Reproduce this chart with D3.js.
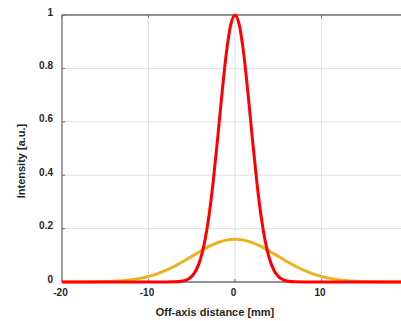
<!DOCTYPE html>
<html lang="en">
<head>
<meta charset="UTF-8">
<title>Intensity profile</title>
<style>
  body { margin: 0; background: #fff; }
  svg { display: block; }
  text { font-family: "Liberation Sans", Arial, sans-serif; font-weight: bold; fill: #262626; }
</style>
</head>
<body>
<div id="root"></div>
<script src="https://d3js.org/d3.v7.min.js"></script>
<script>
// values
const xTicks = [-20, -10, 0, 10, 20]
const yTicks = [0, 0.2, 0.4, 0.6, 0.8, 1]
const yTickLabels = ["0", "0.2", "0.4", "0.6", "0.8", "1"]

const redX = [-20, -8, -7, -6, -5.5, -5, -4.5, -4, -3.5, -3, -2.5, -2, -1.5, -1, -0.5, 0,
              0.5, 1, 1.5, 2, 2.5, 3, 3.5, 4, 4.5, 5, 5.5, 6, 7, 8, 20]
const redY = [0, 0, 0.0005, 0.004, 0.0095, 0.021, 0.044, 0.085, 0.152, 0.25, 0.382, 0.54, 0.707, 0.857, 0.962, 1,
              0.962, 0.857, 0.707, 0.54, 0.382, 0.25, 0.152, 0.085, 0.044, 0.021, 0.0095, 0.004, 0.0005, 0, 0]

const orangeX = [-20, -18, -17, -16, -15, -14, -13, -12, -11, -10, -9, -8, -7, -6, -5, -4, -3, -2, -1, 0,
                 1, 2, 3, 4, 5, 6, 7, 8, 9, 10, 11, 12, 13, 14, 15, 16, 17, 18, 20]
const orangeY = [0, 0.0002, 0.0004, 0.0009, 0.0016, 0.0029, 0.0051, 0.0085, 0.0135, 0.0208, 0.0306, 0.0433,
                 0.0589, 0.0768, 0.0961, 0.1154, 0.1332, 0.1475, 0.1568, 0.16,
                 0.1568, 0.1475, 0.1332, 0.1154, 0.0961, 0.0768, 0.0589, 0.0433, 0.0306, 0.0208, 0.0135,
                 0.0085, 0.0051, 0.0029, 0.0016, 0.0009, 0.0004, 0.0002, 0]

const W = 401, H = 321
const margin = {top: 15, left: 62}
const plotW = 346, plotH = 267

const svg = d3.select("#root").append("svg")
  .attr("width", W)
  .attr("height", H)

const x = d3.scaleLinear().domain([-20, 20]).range([margin.left, margin.left + plotW])
const y = d3.scaleLinear().domain([0, 1]).range([margin.top + plotH, margin.top])

// grid
svg.append("g").selectAll("line.gx")
  .data(xTicks.slice(1, -1))
  .join("line")
  .attr("x1", d => x(d)).attr("x2", d => x(d))
  .attr("y1", y(0)).attr("y2", y(1))
  .attr("stroke", "#dfdfdf").attr("stroke-width", 1)

svg.append("g").selectAll("line.gy")
  .data(yTicks.slice(1, -1))
  .join("line")
  .attr("x1", x(-20)).attr("x2", x(20))
  .attr("y1", d => y(d)).attr("y2", d => y(d))
  .attr("stroke", "#dfdfdf").attr("stroke-width", 1)

// box lines
const axisColor = "#6e6e6e"
svg.append("line").attr("x1", x(-20)).attr("x2", x(20)).attr("y1", y(1)).attr("y2", y(1))
  .attr("stroke", axisColor).attr("stroke-width", 1.3)
svg.append("line").attr("x1", x(-20)).attr("x2", x(20)).attr("y1", y(0)).attr("y2", y(0))
  .attr("stroke", axisColor).attr("stroke-width", 1.3)
svg.append("line").attr("x1", x(-20)).attr("x2", x(-20)).attr("y1", y(0)).attr("y2", y(1))
  .attr("stroke", axisColor).attr("stroke-width", 1.3)

// ticks (inside)
svg.append("g").selectAll("line")
  .data(xTicks)
  .join("line")
  .attr("x1", d => x(d)).attr("x2", d => x(d))
  .attr("y1", y(0)).attr("y2", y(0) - 3)
  .attr("stroke", axisColor)
svg.append("g").selectAll("line")
  .data(xTicks)
  .join("line")
  .attr("x1", d => x(d)).attr("x2", d => x(d))
  .attr("y1", y(1)).attr("y2", y(1) + 3)
  .attr("stroke", axisColor)
svg.append("g").selectAll("line")
  .data(yTicks)
  .join("line")
  .attr("x1", x(-20)).attr("x2", x(-20) + 3)
  .attr("y1", d => y(d)).attr("y2", d => y(d))
  .attr("stroke", axisColor)

// curves
const line = d3.line()
  .x(d => x(d[0]))
  .y(d => y(d[1]))
  .curve(d3.curveMonotoneX)

svg.append("path")
  .datum(orangeX.map((v, i) => [v, orangeY[i]]))
  .attr("d", line)
  .attr("fill", "none")
  .attr("stroke", "#EDB120")
  .attr("stroke-width", 3)

svg.append("path")
  .datum(redX.map((v, i) => [v, redY[i]]))
  .attr("d", line)
  .attr("fill", "none")
  .attr("stroke", "#FF0000")
  .attr("stroke-width", 3)

// tick labels
svg.append("g").selectAll("text")
  .data(xTicks)
  .join("text")
  .attr("x", d => x(d) - 1.5)
  .attr("y", y(0) + 14)
  .attr("text-anchor", "middle")
  .attr("font-size", 10)
  .text(d => d)

svg.append("g").selectAll("text")
  .data(yTicks)
  .join("text")
  .attr("x", 53)
  .attr("y", d => y(d) + 0.5)
  .attr("text-anchor", "end")
  .attr("font-size", 10)
  .text((d, i) => yTickLabels[i])

// axis titles
svg.append("text")
  .attr("x", 215)
  .attr("y", 316)
  .attr("text-anchor", "middle")
  .attr("font-size", 11)
  .text("Off-axis distance [mm]")

svg.append("text")
  .attr("transform", "translate(25, 161) rotate(-90)")
  .attr("text-anchor", "middle")
  .attr("font-size", 11)
  .text("Intensity [a.u.]")
</script>
</body>
</html>
